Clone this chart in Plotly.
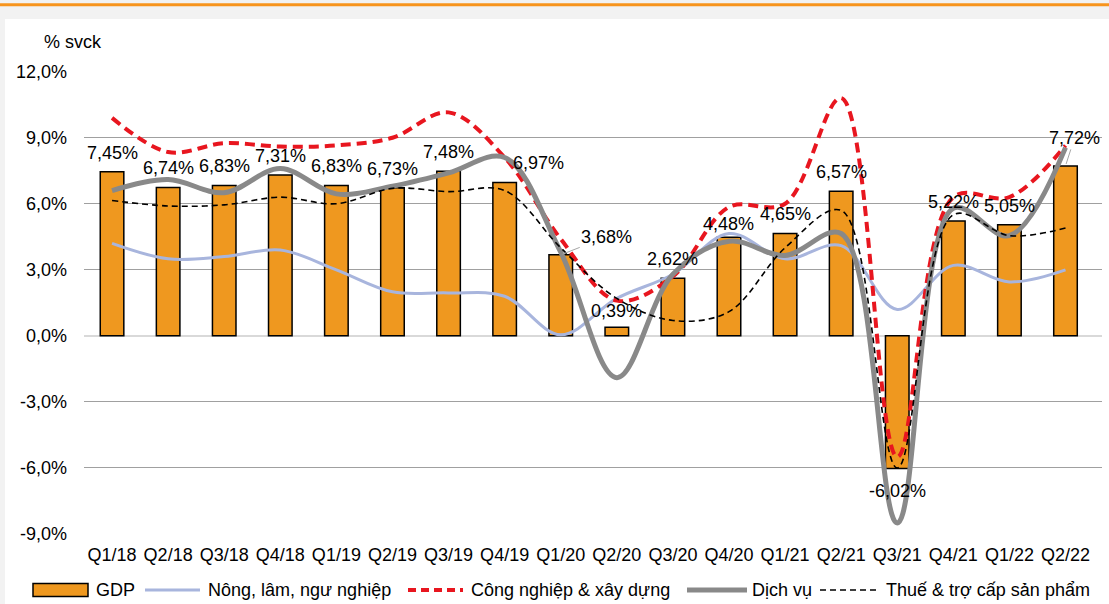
import plotly.graph_objects as go

# ---------------- data ----------------
quarters = ["Q1/18", "Q2/18", "Q3/18", "Q4/18", "Q1/19", "Q2/19", "Q3/19", "Q4/19",
            "Q1/20", "Q2/20", "Q3/20", "Q4/20", "Q1/21", "Q2/21", "Q3/21", "Q4/21",
            "Q1/22", "Q2/22"]
gdp = [7.45, 6.74, 6.83, 7.31, 6.83, 6.73, 7.48, 6.97, 3.68, 0.39, 2.62, 4.48,
       4.65, 6.57, -6.02, 5.22, 5.05, 7.72]
nong_lam = [4.2, 3.5, 3.6, 3.9, 3.0, 2.0, 1.95, 1.8, 0.05, 1.7, 2.8, 4.65,
            3.5, 4.1, 1.2, 3.2, 2.45, 3.0]
cong_nghiep = [9.9, 8.35, 8.75, 8.6, 8.65, 9.0, 10.15, 8.1, 4.4, 1.6, 2.7, 5.85,
               6.0, 10.8, -5.5, 6.3, 6.3, 8.65]
dich_vu = [6.6, 7.1, 6.5, 7.6, 6.45, 6.8, 7.4, 8.1, 3.8, -1.9, 2.8, 4.3,
           3.65, 4.65, -8.5, 5.8, 4.55, 8.55]
thue = [6.15, 5.9, 5.95, 6.3, 6.0, 6.7, 6.55, 6.6, 4.0, 1.7, 0.7, 1.1,
        4.0, 5.7, -6.0, 5.5, 4.55, 4.9]
y_ticks = [12, 9, 6, 3, 0, -3, -6, -9]
y_tick_text = ["12,0%", "9,0%", "6,0%", "3,0%", "0,0%", "-3,0%", "-6,0%", "-9,0%"]
series_names = ["GDP", "Nông, lâm, ngư nghiệp", "Công nghiệp & xây dựng", "Dịch vụ",
                "Thuế & trợ cấp sản phẩm"]

# ---------------- style ----------------
FONT = "Arial, Liberation Sans, sans-serif"
W, H = 1109, 604
ML, MR, MT, MB = 84, 7, 71, 70
PW, PH = W - ML - MR, H - MT - MB

C_BAR = "#EF981F"
C_AGRI = "#A8B5DD"
C_IND = "#E8161F"
C_SERV = "#898989"
C_TAX = "#000000"


def px_x(p):
    return (p - ML) / PW


def px_y(p):
    return (H - MB - p) / PH


# label offsets (pixel shift of label centre from bar end), per index
label_shift = {7: (34, 19), 9: (0, 16), 11: (0, 13)}
leader_labels = {8: (46, -18), 17: (9, -28)}

fig = go.Figure()
fig.add_trace(go.Bar(
    x=quarters, y=gdp, name=series_names[0], width=0.42,
    marker=dict(color=C_BAR, line=dict(color="#000000", width=1.5)),
))
fig.add_trace(go.Scatter(
    x=quarters, y=nong_lam, name=series_names[1], mode="lines",
    line=dict(color=C_AGRI, width=3, shape="spline", smoothing=1.0),
))
fig.add_trace(go.Scatter(
    x=quarters, y=cong_nghiep, name=series_names[2], mode="lines",
    line=dict(color=C_IND, width=4, dash="10px,6px", shape="spline", smoothing=1.0),
))
fig.add_trace(go.Scatter(
    x=quarters, y=dich_vu, name=series_names[3], mode="lines",
    line=dict(color=C_SERV, width=5, shape="spline", smoothing=1.0),
))
fig.add_trace(go.Scatter(
    x=quarters, y=thue, name=series_names[4], mode="lines",
    line=dict(color=C_TAX, width=1.6, dash="6px,4px", shape="spline", smoothing=1.0),
))

annotations = []
for i, (q, v) in enumerate(zip(quarters, gdp)):
    txt = f"{v:.2f}%".replace(".", ",")
    if i in leader_labels:
        ax, ay = leader_labels[i]
        annotations.append(dict(
            x=q, y=v, text=txt, showarrow=True, arrowhead=0, arrowwidth=1,
            arrowcolor="#A6A6A6", ax=ax, ay=ay, standoff=2,
            font=dict(family=FONT, size=18, color="#000000"),
        ))
        continue
    dx, dy = label_shift.get(i, (0, 19))
    if v < 0:
        dy = -23
    annotations.append(dict(
        x=q, y=v, text=txt, showarrow=False, xshift=dx, yshift=dy,
        yanchor="middle", xanchor="center",
        font=dict(family=FONT, size=18, color="#000000"),
    ))

annotations.append(dict(
    xref="paper", yref="paper", x=px_x(42), y=px_y(42), text="% svck",
    showarrow=False, xanchor="left", yanchor="middle",
    font=dict(family=FONT, size=18, color="#000000"),
))

shapes = [
    # grey frame at top and left
    dict(type="rect", xref="paper", yref="paper", x0=px_x(0), x1=px_x(W),
         y0=px_y(19), y1=px_y(0), fillcolor="#F2F2F2", line=dict(width=0), layer="below"),
    dict(type="rect", xref="paper", yref="paper", x0=px_x(0), x1=px_x(5),
         y0=px_y(H), y1=px_y(0), fillcolor="#F2F2F2", line=dict(width=0), layer="below"),
    dict(type="line", xref="paper", yref="paper", x0=px_x(0), x1=px_x(W),
         y0=px_y(4.7), y1=px_y(4.7), line=dict(color="#F7941D", width=3)),
]

# ---- legend drawn in the bottom margin ----
LEG_Y = 590
legend_items = [
    # (symbol x0, symbol x1, text x, kind, colour, width, dash)
    (33, 88, 94, "box", C_BAR, 1.5, None),
    (145, 200, 206, "line", C_AGRI, 3, None),
    (408, 463, 469, "line", C_IND, 4, "8px,5px"),
    (687, 747, 750, "line", C_SERV, 5, None),
    (820, 878, 884, "line", C_TAX, 1.6, "6px,4px"),
]
for name, (x0, x1, tx, kind, col, lw, dash) in zip(series_names, legend_items):
    if kind == "box":
        shapes.append(dict(type="rect", xref="paper", yref="paper",
                           x0=px_x(x0), x1=px_x(x1), y0=px_y(LEG_Y + 6.5), y1=px_y(LEG_Y - 6.5),
                           fillcolor=col, line=dict(color="#000000", width=lw)))
    else:
        ln = dict(color=col, width=lw)
        if dash:
            ln["dash"] = dash
        shapes.append(dict(type="line", xref="paper", yref="paper",
                           x0=px_x(x0), x1=px_x(x1), y0=px_y(LEG_Y), y1=px_y(LEG_Y), line=ln))
    annotations.append(dict(
        xref="paper", yref="paper", x=px_x(tx), y=px_y(LEG_Y), text=name,
        showarrow=False, xanchor="left", yanchor="middle",
        font=dict(family=FONT, size=18, color="#000000"),
    ))

fig.update_layout(
    width=W, height=H,
    margin=dict(l=ML, r=MR, t=MT, b=MB, autoexpand=False),
    paper_bgcolor="#FFFFFF", plot_bgcolor="#FFFFFF",
    font=dict(family=FONT, size=18, color="#000000"),
    bargap=0.58,
    showlegend=False,
    annotations=annotations,
    shapes=shapes,
)
fig.update_xaxes(
    type="category", showgrid=False, showline=False, zeroline=False,
    ticks="", ticklabelstandoff=8,
    tickfont=dict(family=FONT, size=18, color="#000000"),
)
fig.update_yaxes(
    range=[-9, 12.03], tickvals=y_ticks, ticktext=y_tick_text,
    showgrid=True, gridcolor="#A0A0A0", gridwidth=1.3,
    zeroline=True, zerolinecolor="#D9D9D9", zerolinewidth=1.5,
    showline=False, ticks="", ticklabelstandoff=16,
    tickfont=dict(family=FONT, size=18, color="#000000"),
)

fig.write_html(
    "out.html",
    config={"displayModeBar": False},
    post_script="document.body.style.margin='0px';document.body.style.overflow='hidden';",
)
